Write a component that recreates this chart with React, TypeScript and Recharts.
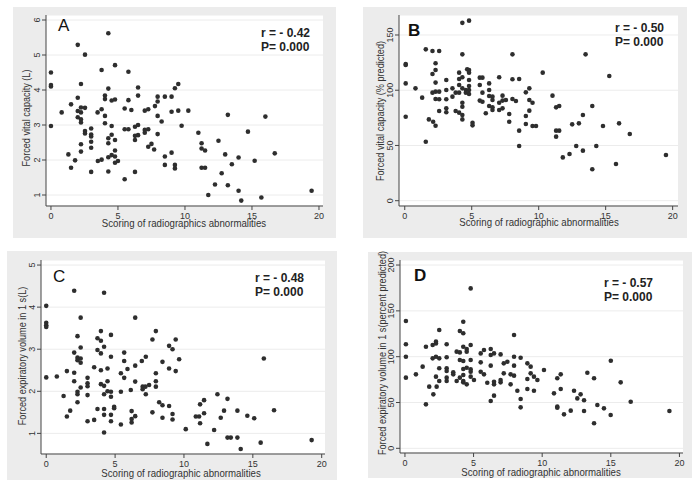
import React from "react";
import { ScatterChart, Scatter, XAxis, YAxis, CartesianGrid } from "recharts";

const FONT = '"Liberation Sans", Arial, Helvetica, sans-serif';
const INK = "#2e2e2e";
const PANEL_BG = "#ececec";

// ---- data ----
const scoreA = [
  0, 0, 0, 0, 0.8, 1.3, 1.5, 1.5, 1.8, 2.0, 2.0, 2.0, 2.0,
  2.24, 2.24, 2.24, 2.24, 2.24, 2.24, 2.24, 2.54, 2.54, 2.54, 2.54,
  3.0, 3.0, 3.0, 3.0, 3.0, 3.0, 3.48, 3.5, 3.78, 3.78, 3.78,
  4.03, 4.03, 4.03, 4.03, 4.28, 4.28, 4.28, 4.28, 4.28, 4.28,
  4.53, 4.53, 4.53, 4.53, 4.78, 4.78, 4.78, 4.78, 4.78, 4.78,
  5.0, 5.5, 5.5, 5.5, 5.78, 5.78, 5.78, 6.0, 6.27, 6.27, 6.27, 6.27,
  6.5, 6.5, 6.5, 6.5, 7.0, 7.0, 7.0, 7.26, 7.26, 7.26, 7.5, 7.7, 7.76,
  7.96, 7.96, 7.96, 7.96, 8.26, 8.5, 8.5, 8.5, 9.0, 9.0, 9.0,
  9.25, 9.25, 9.25, 9.5, 9.5, 9.75, 10.25, 11.0, 11.24, 11.24, 11.24,
  11.5, 11.5, 11.74, 12.24, 12.5, 12.74, 13.0, 13.2, 13.2, 13.5,
  14.0, 14.0, 14.2, 14.7, 15.2, 15.7, 16.0, 16.7, 19.45,
];
const fvcLitres = [
  4.5, 4.14, 4.1, 2.97, 3.36, 2.16, 3.59, 1.78, 1.99, 5.29, 3.78, 3.4, 3.22,
  4.17, 3.5, 3.36, 3.16, 3.07, 2.45, 2.24, 5.01, 3.49, 2.83, 2.76,
  2.9, 2.73, 2.67, 2.52, 2.35, 1.66, 3.36, 1.97, 4.57, 3.45, 2.01,
  3.84, 3.74, 3.26, 3.05, 5.62, 4.04, 2.62, 2.48, 2.08, 1.67,
  2.97, 2.72, 3.7, 2.14, 4.71, 3.73, 2.57, 2.27, 2.1, 1.92,
  1.97, 3.47, 2.88, 1.45, 4.52, 3.71, 2.88, 3.43, 2.69, 2.95, 2.57, 1.66,
  4.07, 3.84, 3.0, 2.71, 3.41, 2.86, 2.78, 3.45, 2.88, 2.38, 2.46, 2.3, 3.54,
  3.81, 3.67, 3.26, 2.74, 3.1, 3.81, 2.1, 1.86, 3.81, 3.38, 2.21,
  4.05, 1.86, 1.76, 4.17, 3.41, 2.98, 3.41, 2.78, 2.48, 2.33, 1.78,
  2.27, 1.78, 1.0, 1.3, 2.55, 1.62, 2.16, 3.29, 1.28, 1.88,
  2.07, 1.12, 0.84, 2.81, 1.98, 0.93, 3.24, 2.19, 1.12,
];

const scoreB = [
  0.07, 0.07, 0.07, 0.07, 0.8, 1.3, 1.57, 1.57, 1.8,
  2.07, 2.07, 2.07, 2.12, 2.3, 2.3, 2.3, 2.3, 2.3, 2.3,
  2.57, 2.57, 2.57, 2.57, 3.1, 3.1, 3.1, 3.1, 3.1, 3.56, 3.56, 3.8, 3.8,
  4.06, 4.06, 4.06, 4.06, 4.06, 4.3, 4.3, 4.3, 4.3, 4.3, 4.3, 4.3, 4.3,
  4.56, 4.56, 4.8, 4.66, 4.8, 4.8, 4.8, 4.8, 4.8, 4.8, 5.06, 5.06,
  5.6, 5.6, 5.6, 5.8, 5.8, 5.8, 6.05, 6.3, 6.3, 6.3, 6.3,
  6.55, 6.55, 6.55, 6.55, 7.05, 7.05, 7.05, 7.3, 7.3, 7.3, 7.55, 7.8, 7.8,
  8.04, 8.04, 8.04, 8.3, 8.54, 8.54, 8.54, 9.04, 9.04, 9.04,
  9.3, 9.3, 9.3, 9.54, 9.54, 9.8, 10.3, 11.03, 11.3, 11.3, 11.3,
  11.53, 11.53, 11.8, 12.3, 12.5, 12.8, 13.0, 13.3, 13.3, 13.5,
  14.3, 14.0, 14.0, 14.8, 15.27, 15.77, 16.0, 16.8, 19.5,
];
const fvcPredicted = [
  122.8, 123.8, 106.2, 76, 101.7, 93.3, 137, 53.4, 73.6,
  135.5, 114.7, 97.8, 71.5, 124.4, 118.3, 106.9, 98.7, 92, 67.9,
  135.5, 98.7, 91.8, 81.2, 109.3, 100.2, 91.8, 83.6, 80, 101.7, 94.2, 97.8, 81.2,
  115.9, 110.2, 104.7, 97.8, 79.7, 111.7, 132.5, 161, 101.7, 88.7, 85.1, 77.6, 73.6,
  100.2, 97.8, 163, 118.9, 118.3, 115.9, 109.3, 103.8, 100.2, 96.6, 70.6, 68.2,
  111.4, 104.7, 90.6, 111.4, 97.8, 89.6, 79.1, 106.2, 100.2, 94.8, 85.7,
  94.2, 91.2, 84.5, 82.1, 111.7, 88.7, 82.1, 95.1, 90.6, 83.6, 91.2, 78.5, 71.5,
  132.5, 109.9, 92, 90.2, 110.2, 63.4, 49.5, 98.1, 76.7, 69.4,
  101.7, 91.2, 81.5, 88.7, 67.6, 67.6, 115.9, 95.1, 84.5, 63.4, 58,
  85.7, 63.4, 39.2, 42.3, 69.1, 49.5, 70, 77.6, 45.3, 132.5,
  49.5, 85.7, 28.4, 67.6, 112.9, 33.2, 70, 60.4, 41.4,
];

const scoreC = [
  0, 0, 0, 0, 0, 0.77, 1.26, 1.5, 1.5, 1.74,
  2.03, 2.03, 2.03, 2.03, 2.27, 2.27, 2.27, 2.27, 2.27, 2.27,
  2.5, 2.5, 2.5, 2.5, 2.5, 3.0, 3.0, 3.0, 3.0, 3.0, 3.48, 3.48,
  3.72, 3.72, 3.72, 3.97, 3.97, 3.97, 3.97, 3.97,
  4.2, 4.2, 4.2, 4.2, 4.2, 4.2, 4.2, 4.45, 4.45, 4.45,
  4.7, 4.7, 4.7, 4.7, 4.7, 4.7, 4.93, 4.93, 5.42, 5.42, 5.42,
  5.66, 5.66, 5.66, 5.9, 6.14, 6.2, 6.2, 6.2, 6.46, 6.46, 6.46, 6.46,
  6.94, 7.0, 7.0, 7.2, 7.23, 7.23, 7.47, 7.71, 7.71,
  7.96, 7.96, 7.96, 7.96, 8.2, 8.44, 8.44, 8.44, 8.92, 8.92, 8.92,
  9.17, 9.17, 9.17, 9.4, 9.4, 9.65, 10.13, 10.86, 11.1, 11.17, 11.17,
  11.46, 11.46, 11.7, 12.19, 12.43, 12.67, 12.91, 13.16, 13.16, 13.4,
  13.88, 13.88, 14.12, 14.6, 15.1, 15.57, 15.8, 16.54, 19.27,
];
const fev1Litres = [
  4.03, 3.63, 3.57, 3.53, 2.33, 2.35, 1.89, 2.48, 1.4, 1.54,
  4.39, 2.92, 2.44, 2.24, 3.31, 2.8, 2.74, 1.99, 1.93, 1.74,
  3.75, 3.04, 2.78, 2.68, 2.09, 2.32, 2.19, 2.12, 1.91, 1.29, 2.57, 1.32,
  3.26, 2.98, 1.58, 3.43, 3.2, 2.9, 2.5, 2.17,
  2.13, 3.06, 4.34, 1.93, 1.58, 1.44, 1.02, 2.54, 2.24, 2.0,
  3.34, 2.82, 1.99, 1.87, 1.44, 1.29, 1.63, 1.6, 1.99, 2.43, 1.21,
  2.92, 2.72, 2.32, 2.53, 2.03, 1.53, 1.34, 1.26, 3.75, 2.61, 2.23, 1.41,
  2.72, 2.11, 2.05, 2.11, 2.82, 1.93, 2.15, 3.23, 1.5,
  3.43, 2.43, 2.24, 2.11, 1.74, 1.67, 1.37, 2.7, 3.08, 1.65, 2.54,
  3.0, 1.46, 1.33, 3.23, 2.48, 2.76, 1.1, 1.4, 1.4, 1.24, 1.69,
  1.79, 1.48, 0.75, 1.08, 1.93, 1.37, 1.54, 1.82, 0.9, 0.9,
  1.54, 0.9, 0.63, 1.42, 1.36, 0.78, 2.78, 1.55, 0.84,
];

const scoreD = [
  0.07, 0.07, 0.07, 0.07, 0.8, 1.29, 1.53, 1.53, 1.77,
  2.02, 2.02, 2.07, 2.26, 2.26, 2.26, 2.26, 2.31, 2.5, 2.5, 2.5, 2.5,
  3.04, 3.04, 3.04, 3.04, 3.04, 3.04, 3.52, 3.52, 3.77, 3.77,
  4.0, 4.0, 4.0, 4.25, 4.25, 4.25, 4.25, 4.25, 4.25, 4.25, 4.25, 4.0,
  4.5, 4.5, 4.5, 4.5, 4.79, 4.79, 4.79, 4.79, 4.79, 4.79, 5.03,
  5.52, 5.52, 5.52, 5.76, 5.76, 6.0, 6.25, 6.25, 6.25, 6.25,
  6.49, 6.49, 6.49, 6.49, 6.97, 6.97, 6.97, 7.2, 7.2, 7.46, 7.7, 7.7,
  7.95, 7.95, 7.95, 7.95, 8.19, 8.43, 8.43, 8.43, 8.92, 8.92, 8.92,
  9.16, 9.16, 9.4, 9.4, 9.65, 10.13, 10.86, 11.1, 11.1, 11.1, 11.35, 11.35,
  11.59, 12.08, 12.32, 12.56, 12.8, 13.05, 13.05, 13.29, 13.78, 13.78,
  14.02, 14.5, 14.99, 15.0, 15.72, 16.45, 19.27,
];
const fev1Predicted = [
  138.9, 113.5, 100, 77.1, 80.7, 89.1, 110.9, 48, 67.3,
  98.2, 112.7, 58.9, 116.4, 114.5, 100, 78.2, 67.3, 129.1, 98.2, 87.3, 73.5,
  113.5, 99.3, 87.3, 84.4, 73.5, 77.1, 82.9, 80.7, 105.5, 73.5,
  104.7, 128, 96.4, 138.2, 125.5, 110.9, 95.3, 86.5, 80, 73.5, 72, 77.1,
  108.4, 105.5, 88, 69.8, 174.5, 112.7, 96.4, 86.2, 83.6, 78.2, 74.5,
  103.6, 93.8, 83.6, 107.3, 80.7, 71.6, 108.4, 101.8, 90.2, 51.6,
  103.6, 72.7, 69.8, 57.5, 102.5, 74.5, 72, 92.7, 81.8, 94.5, 80.7, 69.8,
  123.6, 100, 90.2, 79.3, 62.9, 98.9, 53.8, 44.7, 92.7, 75.6, 64.7,
  89.1, 81.8, 78.2, 62.9, 74.5, 85.5, 60, 76.4, 45.5, 44.4, 64.7, 80.7,
  37.1, 41.1, 62.9, 54.5, 58.9, 52.4, 40.7, 82.5, 76.4, 27.3,
  47.3, 43.6, 36.4, 95.6, 72, 50.9, 40.7,
];

const scoreTicks = [0, 5, 10, 15, 20];
const litreTicksA = [1, 2, 3, 4, 5, 6];
const percentTicksB = [0, 50, 100, 150];
const litreTicksC = [1, 2, 3, 4, 5];
const percentTicksD = [0, 50, 100, 150, 200];

const zip = (xs: number[], ys: number[]) => xs.map((x, i) => ({ x, y: ys[i] }));

// ---- drawing helpers ----
function Dot(props: any) {
  const { cx, cy } = props;
  if (cx == null || cy == null) return null;
  return <circle cx={cx} cy={cy} r={2.3} fill={INK} />;
}

function XTick({ x, y, payload }: any) {
  return (
    <text x={x} y={y + 7} textAnchor="middle" fontSize={9} fill="#333" fontFamily={FONT}>
      {payload.value}
    </text>
  );
}

function YTick({ x, y, payload }: any) {
  return (
    <text x={x} y={y} transform={`rotate(-90 ${x} ${y})`} textAnchor="middle" fontSize={9} fill="#333" fontFamily={FONT}>
      {payload.value}
    </text>
  );
}

type PanelProps = {
  box: { left: number; top: number; width: number; height: number };
  plot: { top: number; right: number; yAxisWidth: number; xAxisHeight: number };
  xDomain: [number, number];
  yDomain: [number, number];
  yTicks: number[];
  data: { x: number; y: number }[];
  letter: string;
  letterPos: { left: number; top: number; bold: boolean };
  stats: string[];
  statsPos: { right: number; top: number };
  xLabel: string;
  xLabelPos: { cx: number; cy: number };
  yLabel: string;
  yLabelPos: { cx: number; cy: number };
};

function Panel(p: PanelProps) {
  return (
    <div
      style={{
        position: "absolute",
        left: p.box.left,
        top: p.box.top,
        width: p.box.width,
        height: p.box.height,
        background: PANEL_BG,
        fontFamily: FONT,
        color: "#222",
      }}
    >
      <ScatterChart
        width={p.box.width}
        height={p.box.height}
        margin={{ top: p.plot.top, right: p.plot.right, bottom: 0, left: 0 }}
      >
        <CartesianGrid vertical={false} stroke="#ececec" fill="#ffffff" />
        <XAxis
          type="number"
          dataKey="x"
          domain={p.xDomain}
          ticks={scoreTicks}
          allowDataOverflow
          height={p.plot.xAxisHeight}
          tickSize={4}
          tickMargin={2}
          tick={<XTick />}
          stroke="#444"
          tickLine={{ stroke: "#444" }}
        />
        <YAxis
          type="number"
          dataKey="y"
          domain={p.yDomain}
          ticks={p.yTicks}
          allowDataOverflow
          width={p.plot.yAxisWidth}
          tickSize={4}
          tickMargin={2}
          tick={<YTick />}
          stroke="#444"
          tickLine={{ stroke: "#444" }}
        />
        <Scatter data={p.data} shape={<Dot />} isAnimationActive={false} />
      </ScatterChart>

      <div
        style={{
          position: "absolute",
          left: p.letterPos.left,
          top: p.letterPos.top,
          fontSize: 17,
          lineHeight: 1,
          fontWeight: p.letterPos.bold ? 700 : 400,
          color: "#111",
        }}
      >
        {p.letter}
      </div>
      <div
        style={{
          position: "absolute",
          right: p.statsPos.right,
          top: p.statsPos.top,
          fontSize: 12,
          lineHeight: "14px",
          fontWeight: 700,
          color: "#222",
          whiteSpace: "nowrap",
        }}
      >
        {p.stats.map((s) => (
          <div key={s}>{s}</div>
        ))}
      </div>
      <div
        style={{
          position: "absolute",
          left: p.xLabelPos.cx,
          top: p.xLabelPos.cy + 1,
          transform: "translate(-50%, -50%) scaleX(0.92)",
          fontSize: 10.5,
          lineHeight: 1,
          whiteSpace: "nowrap",
          color: "#333",
        }}
      >
        {p.xLabel}
      </div>
      <div
        style={{
          position: "absolute",
          left: p.yLabelPos.cx,
          top: p.yLabelPos.cy,
          transform: "translate(-50%, -50%) rotate(-90deg) scaleX(0.87)",
          fontSize: 10.5,
          lineHeight: 1,
          whiteSpace: "nowrap",
          color: "#333",
        }}
      >
        {p.yLabel}
      </div>
    </div>
  );
}

export default function App() {
  return (
    <div style={{ position: "absolute", left: 0, top: 0, width: 700, height: 496, background: "#fff", overflow: "hidden" }}>
      <Panel
        box={{ left: 13, top: 7, width: 323, height: 231 }}
        plot={{ top: 8, right: 13, yAxisWidth: 33, xAxisHeight: 32 }}
        xDomain={[-0.37, 20.3]}
        yDomain={[0.686, 6.143]}
        yTicks={litreTicksA}
        data={zip(scoreA, fvcLitres)}
        letter="A"
        letterPos={{ left: 45, top: 10, bold: false }}
        stats={["r = - 0.42", "P= 0.000"]}
        statsPos={{ right: 26, top: 19 }}
        xLabel="Scoring of radiographics abnormalities"
        xLabelPos={{ cx: 171, cy: 215 }}
        yLabel="Forced vital capacity (L)"
        yLabelPos={{ cx: 13, cy: 111 }}
      />
      <Panel
        box={{ left: 363, top: 7, width: 324, height: 231 }}
        plot={{ top: 8, right: 9, yAxisWidth: 36, xAxisHeight: 32 }}
        xDomain={[-0.43, 20.4]}
        yDomain={[-4.8, 168.1]}
        yTicks={percentTicksB}
        data={zip(scoreB, fvcPredicted)}
        letter="B"
        letterPos={{ left: 45, top: 15, bold: true }}
        stats={["r = - 0.50", "P= 0.000"]}
        statsPos={{ right: 23, top: 14 }}
        xLabel="Scoring of radiographic abnormalities"
        xLabelPos={{ cx: 176, cy: 214 }}
        yLabel="Forced vital capacity (% predicted)"
        yLabelPos={{ cx: 17, cy: 104 }}
      />
      <Panel
        box={{ left: 7, top: 251, width: 330, height: 229 }}
        plot={{ top: 9, right: 12, yAxisWidth: 34, xAxisHeight: 26 }}
        xDomain={[-0.38, 20.24]}
        yDomain={[0.51, 5.12]}
        yTicks={litreTicksC}
        data={zip(scoreC, fev1Litres)}
        letter="C"
        letterPos={{ left: 46, top: 17, bold: false }}
        stats={["r = - 0.48", "P= 0.000"]}
        statsPos={{ right: 33, top: 20 }}
        xLabel="Scoring of radiographic abnormalities"
        xLabelPos={{ cx: 174, cy: 221 }}
        yLabel="Forced expiratory volume in 1 s(L)"
        yLabelPos={{ cx: 15, cy: 105 }}
      />
      <Panel
        box={{ left: 368, top: 252, width: 324, height: 226 }}
        plot={{ top: 8, right: 9, yAxisWidth: 32, xAxisHeight: 25 }}
        xDomain={[-0.36, 20.26]}
        yDomain={[-5.1, 205.5]}
        yTicks={percentTicksD}
        data={zip(scoreD, fev1Predicted)}
        letter="D"
        letterPos={{ left: 46, top: 15, bold: true }}
        stats={["r = - 0.57", "P= 0.000"]}
        statsPos={{ right: 39, top: 24 }}
        xLabel="Scoring of radiographic abnormalities"
        xLabelPos={{ cx: 173, cy: 219 }}
        yLabel="Forced expiratory volume in 1 s(percent predicted)"
        yLabelPos={{ cx: 14, cy: 101 }}
      />
    </div>
  );
}
